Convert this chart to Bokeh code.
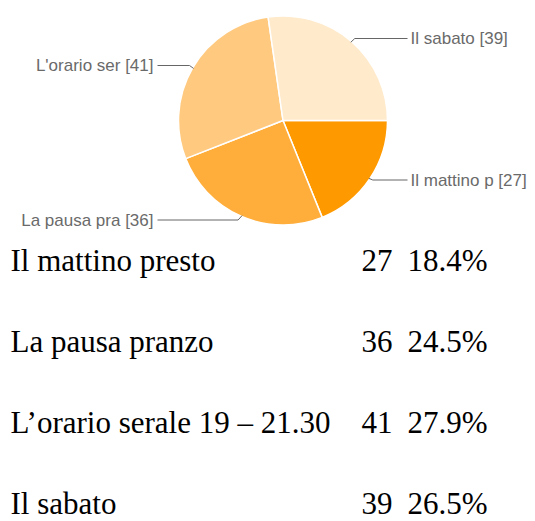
import math
from bokeh.plotting import figure
from bokeh.models import Range1d, ColumnDataSource
from bokeh.core.properties import value
from bokeh.embed import file_html
from bokeh.resources import INLINE

# ---- data ----
categories = ["Il mattino presto", "La pausa pranzo", "L\u2019orario serale 19 \u2013 21.30", "Il sabato"]
short_labels = ["Il mattino p", "La pausa pra", "L'orario ser", "Il sabato"]
counts = [27, 36, 41, 39]
percents = ["18.4%", "24.5%", "27.9%", "26.5%"]
colors = ["#FF9900", "#FFAD3B", "#FFCA80", "#FFEACC"]

# ---- layout (screen pixels) ----
W, H = 535, 521
cx, cy, R = 282.5, 120.0, 104.5
label_y = [179.5, 219.5, 65.0, 38.0]
label_side = [1, -1, -1, 1]
right_text_x, right_line_end = 410, 407
left_text_x, left_line_end = 153, 157

p = figure(width=W, height=H, output_backend="svg", toolbar_location=None,
           x_range=Range1d(0, W), y_range=Range1d(-H, 0),
           min_border=0)
p.axis.visible = False
p.grid.visible = False
p.outline_line_color = None
p.background_fill_color = "white"
p.border_fill_color = "white"

total = sum(counts)
starts, ends, mids = [], [], []
acc = 0.0
for c in counts:
    a0 = acc / total * 2 * math.pi
    acc += c
    a1 = acc / total * 2 * math.pi
    starts.append(-a0)
    ends.append(-a1)
    mids.append((a0 + a1) / 2)

src = ColumnDataSource(dict(start=starts, end=ends, color=colors))
p.wedge(x=cx, y=-cy, radius=R, start_angle="start", end_angle="end",
        direction="clock", fill_color="color", line_color="white",
        line_width=1.5, source=src)

# leader lines
xs, ys = [], []
tx, ty, talign, ttext = [], [], [], []
for i, m in enumerate(mids):
    ex = cx + (R - 1) * math.cos(m)
    ey = cy + (R - 1) * math.sin(m)
    s = label_side[i]
    bx = ex + 4 * s
    by = label_y[i]
    endx = right_line_end if s > 0 else left_line_end
    xs.append([ex, bx, endx])
    ys.append([-ey, -by, -by])
    tx.append(right_text_x if s > 0 else left_text_x)
    ty.append(-label_y[i])
    talign.append("left" if s > 0 else "right")
    ttext.append(f"{short_labels[i]} [{counts[i]}]")

p.multi_line(xs=xs, ys=ys, line_color="#666666", line_width=1)
p.text(x=tx, y=ty, text=ttext, text_align=talign, text_baseline="middle",
       text_font=value("Liberation Sans"), text_font_size="17px",
       text_color="#6a6a6a")

# table below
row_base = [260, 341, 422, 503]
table_font = value("Liberation Serif")
fs = "31px"
p.text(x=[10] * 4, y=[-b for b in row_base], text=categories,
       text_align="left", text_baseline="alphabetic",
       text_font=table_font, text_font_size=fs, text_color="black")
p.text(x=[392] * 4, y=[-b for b in row_base], text=[str(c) for c in counts],
       text_align="right", text_baseline="alphabetic",
       text_font=table_font, text_font_size=fs, text_color="black")
p.text(x=[487] * 4, y=[-b for b in row_base], text=percents,
       text_align="right", text_baseline="alphabetic",
       text_font=table_font, text_font_size=fs, text_color="black")

open("out.html", "w").write(file_html(p, INLINE))
